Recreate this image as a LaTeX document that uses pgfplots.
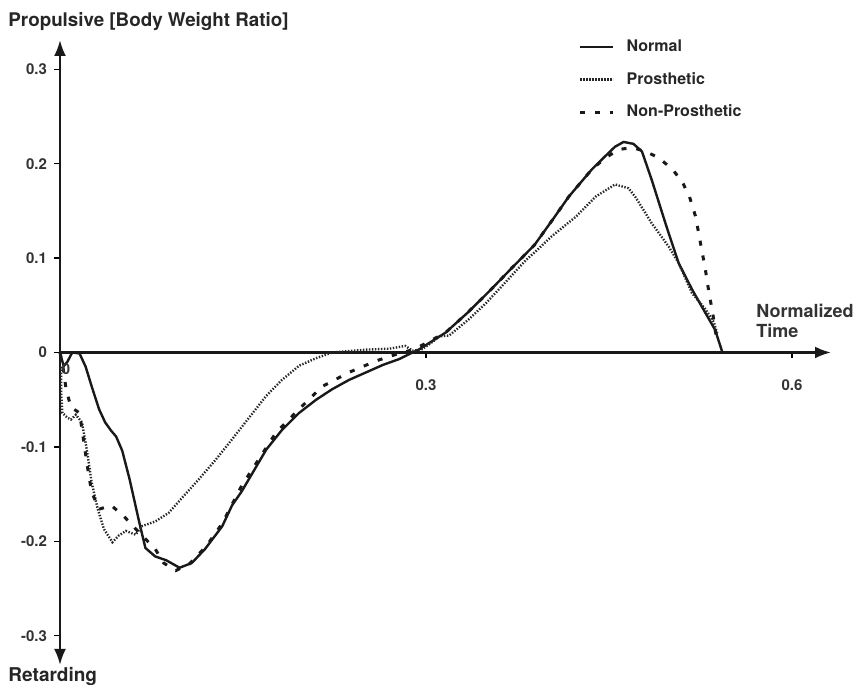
\documentclass[border=0pt]{standalone}
\usepackage{pgfplots}
\pgfplotsset{compat=1.18}
\usepackage{fontspec}
\setmainfont{TeX Gyre Heros}
\usetikzlibrary{arrows.meta}
\begin{document}
\begin{tikzpicture}
\useasboundingbox (-30pt,-10pt) rectangle (398.5pt,332.5pt);
\begin{axis}[
  at={(0,0)}, anchor=south west,
  scale only axis, width=385.5pt, height=312.5pt,
  xmin=0, xmax=0.632, ymin=-0.331, ymax=0.331,
  axis lines=middle,
  axis line style={line width=1.2pt, black!90},
  x axis line style={-{Latex[length=8pt,width=6pt]}},
  y axis line style={{Latex[length=8pt,width=6pt]}-{Latex[length=8pt,width=6pt]}},
  xtick={0.3,0.6}, xticklabels={0.3,0.6},
  ytick={-0.3,-0.2,-0.1,0,0.1,0.2,0.3},
  yticklabels={-0.3,-0.2,-0.1,0,0.1,0.2,0.3},
  hide obscured x ticks=false, hide obscured y ticks=false,
  tick align=outside, major tick length=3pt,
  tick style={line width=0.6pt, black},
  /pgf/number format/assume math mode=true,
  ticklabel style={font=\fontsize{7.5}{9}\selectfont\bfseries, text=black!80},
  xticklabel style={yshift=-7pt},
  legend style={at={(rel axis cs:0.6645,1.0136)}, anchor=north west, draw=none, fill=none,
    font=\fontsize{8}{10}\selectfont\bfseries, row sep=4.8pt, text=black!85},
  legend cell align=left,
  legend image code/.code={\draw[#1] (0pt,0pt) -- (16.5pt,0pt); \path (20.5pt,0pt);},
  clip=false,
]
\addplot[black!90, line width=1.2pt] coordinates {
(0,0) (0.003,-0.0145) (0.006,-0.010) (0.010,0) (0.016,-0.001) (0.021,-0.015) (0.026,-0.036)
(0.032,-0.060) (0.037,-0.074) (0.042,-0.083) (0.046,-0.089) (0.051,-0.104) (0.057,-0.134)
(0.065,-0.180) (0.070,-0.207) (0.078,-0.216) (0.087,-0.220) (0.098,-0.228) (0.108,-0.223)
(0.119,-0.208) (0.133,-0.184) (0.141,-0.162) (0.149,-0.147) (0.169,-0.103) (0.182,-0.082)
(0.196,-0.064) (0.210,-0.050) (0.223,-0.039) (0.237,-0.029) (0.251,-0.021) (0.265,-0.013)
(0.278,-0.007) (0.289,0) (0.294,0.003) (0.316,0.021) (0.334,0.042) (0.352,0.065)
(0.370,0.089) (0.389,0.114) (0.404,0.141) (0.417,0.165) (0.436,0.194) (0.447,0.208)
(0.455,0.218) (0.462,0.223) (0.470,0.221) (0.477,0.213) (0.485,0.183) (0.497,0.134)
(0.507,0.095) (0.518,0.067) (0.529,0.042) (0.537,0.024) (0.543,0)
};
\addlegendentry{Normal}
\addplot[black!85, line width=1.2pt, dash pattern=on 0.7pt off 0.8pt] coordinates {
(0.001,-0.015) (0.001,-0.043) (0.002,-0.064) (0.006,-0.069) (0.009,-0.071) (0.013,-0.066)
(0.018,-0.074) (0.022,-0.103) (0.026,-0.138) (0.031,-0.166) (0.036,-0.187) (0.043,-0.201)
(0.048,-0.194) (0.054,-0.189) (0.062,-0.193) (0.067,-0.184) (0.078,-0.179) (0.089,-0.170)
(0.100,-0.154) (0.114,-0.134) (0.128,-0.113) (0.141,-0.092) (0.155,-0.069) (0.169,-0.046)
(0.182,-0.029) (0.196,-0.014) (0.210,-0.006) (0.223,0) (0.251,0.003) (0.270,0.004)
(0.283,0.007) (0.289,0.002) (0.296,0.003) (0.303,0.009) (0.311,0.017) (0.319,0.018)
(0.335,0.035) (0.349,0.052) (0.362,0.070) (0.382,0.098) (0.389,0.106) (0.403,0.123)
(0.423,0.144) (0.439,0.165) (0.455,0.178) (0.466,0.174) (0.472,0.164) (0.485,0.137)
(0.499,0.112) (0.507,0.095) (0.518,0.063) (0.529,0.046) (0.536,0.032) (0.539,0.019)
};
\addlegendentry{Prosthetic}
\addplot[black!90, line width=1.5pt, dash pattern=on 2.5pt off 5pt] coordinates {
(0,0) (0.003,-0.02) (0.005,-0.039) (0.009,-0.058) (0.016,-0.064) (0.018,-0.081)
(0.020,-0.099) (0.022,-0.117) (0.024,-0.133) (0.026,-0.148) (0.032,-0.166) (0.042,-0.162)
(0.052,-0.173) (0.065,-0.191) (0.078,-0.208) (0.085,-0.223) (0.095,-0.231) (0.106,-0.224)
(0.120,-0.205) (0.133,-0.181) (0.149,-0.141) (0.163,-0.113) (0.177,-0.085) (0.196,-0.060)
(0.215,-0.036) (0.237,-0.021) (0.259,-0.009) (0.280,0) (0.290,0.003) (0.316,0.021)
(0.334,0.042) (0.352,0.065) (0.370,0.089) (0.389,0.114) (0.404,0.141) (0.417,0.165)
(0.436,0.194) (0.447,0.206) (0.458,0.215) (0.469,0.217) (0.480,0.213) (0.491,0.206)
(0.502,0.194) (0.510,0.181) (0.516,0.165) (0.521,0.144) (0.525,0.116) (0.529,0.088)
(0.532,0.063) (0.535,0.042) (0.537,0.024) (0.539,0.01)
};
\addlegendentry{Non-Prosthetic}
\node[inner sep=0pt, font=\fontsize{7.5}{9}\selectfont\bfseries, text=black!80]
  at (axis cs:0.005,-0.018) {0};
\node[inner sep=0pt, anchor=base west, font=\fontsize{9.4}{11}\selectfont\bfseries, text=black!85]
  at (rel axis cs:-0.0674,1.0208) {Propulsive [Body Weight Ratio]};
\node[inner sep=0pt, anchor=base west, font=\fontsize{9.5}{11}\selectfont\bfseries, text=black!85]
  at (rel axis cs:-0.0674,-0.0256) {Retarding};
\node[inner sep=0pt, anchor=base west, font=\fontsize{9}{11}\selectfont\bfseries, text=black!80, yshift=17.5pt]
  at (axis cs:0.5705,0) {Normalized};
\node[inner sep=0pt, anchor=base west, font=\fontsize{9}{11}\selectfont\bfseries, text=black!80, yshift=7.5pt]
  at (axis cs:0.5705,0) {Time};
\end{axis}
\end{tikzpicture}
\end{document}
